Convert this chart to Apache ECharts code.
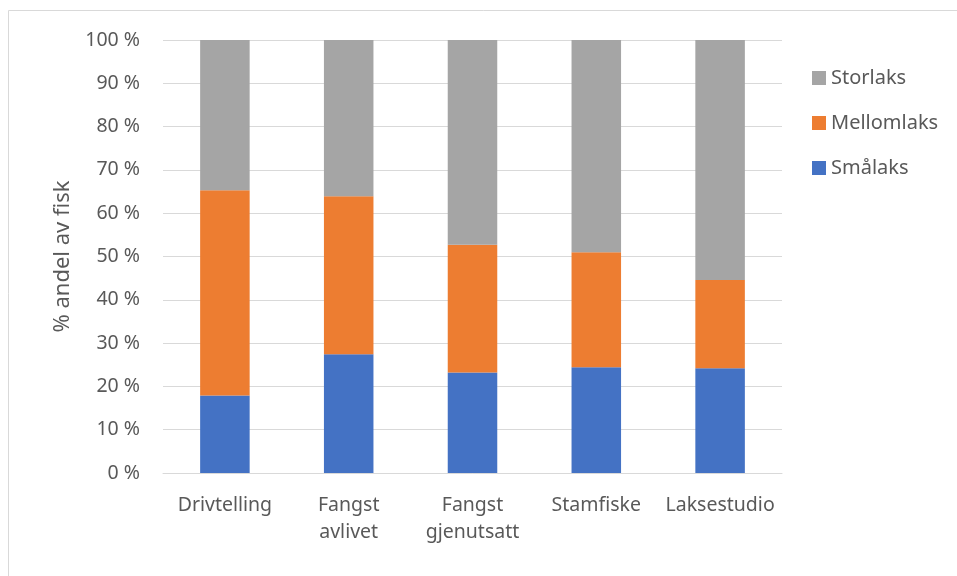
<!DOCTYPE html>
<html><head><meta charset="utf-8">
<script src="https://cdn.jsdelivr.net/npm/echarts@6/dist/echarts.min.js"></script>
<style>html,body{margin:0;padding:0;background:#fff}#c{width:957px;height:576px}</style>
</head><body><div id="c"></div>
<script>
const categories = ['Drivtelling', 'Fangst\navlivet', 'Fangst\ngjenutsatt', 'Stamfiske', 'Laksestudio'];
const smalaks = [17.9, 27.4, 23.2, 24.4, 24.2];
const mellomlaks = [47.4, 36.5, 29.5, 26.6, 20.4];
const storlaks = [34.7, 36.1, 47.3, 49.0, 55.4];
const yTicks = [0, 10, 20, 30, 40, 50, 60, 70, 80, 90, 100];

const font = 'Noto Sans';
const chart = echarts.init(document.getElementById('c'));
chart.setOption({
  animation: false,
  textStyle: {fontFamily: font},
  graphic: [{type: 'rect', shape: {x: 8.5, y: 10.5, width: 960, height: 570}, style: {fill: 'none', stroke: '#D9D9D9', lineWidth: 1}}],
  grid: {left: 163, right: 175, top: 40, bottom: 103},
  legend: {
    orient: 'vertical', left: 807, top: 63, itemGap: 25, itemWidth: 14, itemHeight: 14,
    icon: 'rect', data: ['Storlaks', 'Mellomlaks', 'Smålaks'],
    textStyle: {fontFamily: font, fontSize: 20, lineHeight: 20, color: '#595959'}
  },
  xAxis: {
    type: 'category', data: categories,
    axisLine: {lineStyle: {color: '#D9D9D9'}}, axisTick: {show: false},
    axisLabel: {interval: 0, fontFamily: font, fontSize: 19.5, color: '#595959', margin: 19, lineHeight: 27}
  },
  yAxis: {
    type: 'value', min: 0, max: 100, interval: 10,
    name: '% andel av fisk', nameLocation: 'middle', nameGap: 89, nameRotate: 90,
    nameTextStyle: {fontFamily: font, fontSize: 22, color: '#595959'},
    axisLine: {show: false}, axisTick: {show: false},
    splitLine: {lineStyle: {color: '#D9D9D9', width: 1}},
    axisLabel: {fontFamily: font, fontSize: 19.5, color: '#595959', margin: 23,
      formatter: v => yTicks.includes(v) ? v + ' %' : ''}
  },
  series: [
    {name: 'Smålaks', type: 'bar', stack: 't', data: smalaks, barCategoryGap: '60%', itemStyle: {color: '#4472C4'}},
    {name: 'Mellomlaks', type: 'bar', stack: 't', data: mellomlaks, itemStyle: {color: '#ED7D31'}},
    {name: 'Storlaks', type: 'bar', stack: 't', data: storlaks, itemStyle: {color: '#A5A5A5'}}
  ]
});
</script></body></html>
